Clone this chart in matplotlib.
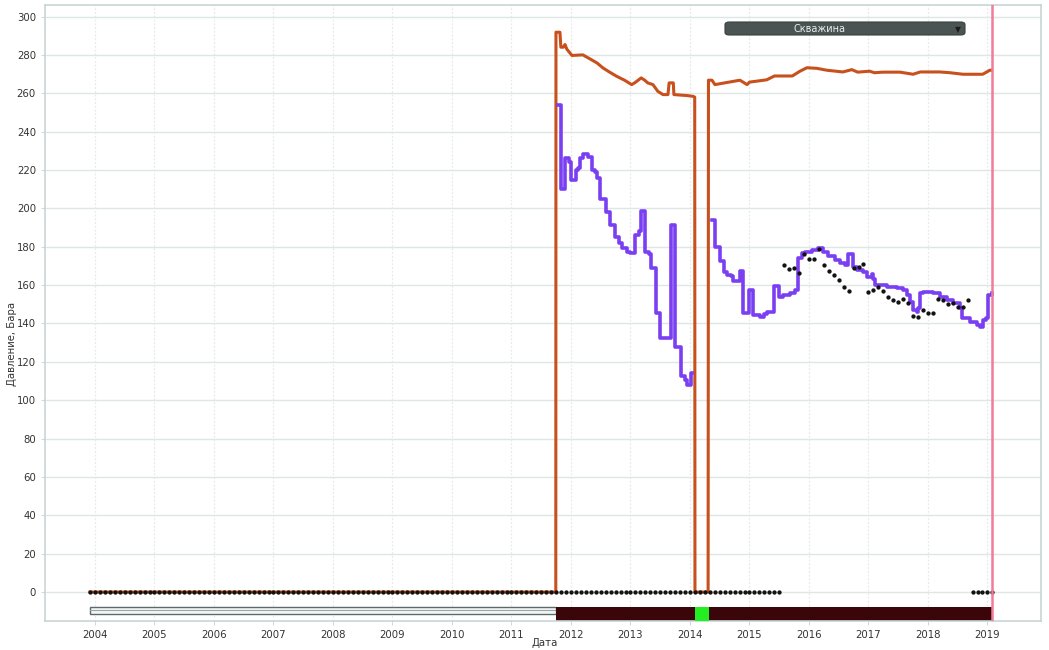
import matplotlib
matplotlib.use("Agg")
import matplotlib.pyplot as plt
import numpy as np
import pandas as pd
from matplotlib.patches import Rectangle, FancyBboxPatch

# ---------------- data ----------------
# Orange series (well pressure, bar) : decimal year / value vertices
orange_t = [2003.916, 2011.745, 2011.748, 2011.815, 2011.83, 2011.87, 2011.90, 2011.93, 2011.983,
            2012.017, 2012.20, 2012.32, 2012.437, 2012.538, 2012.655, 2012.77, 2012.90, 2013.02,
            2013.07, 2013.18, 2013.24, 2013.29, 2013.378, 2013.46, 2013.546, 2013.63, 2013.65,
            2013.72, 2013.73, 2013.95, 2014.05, 2014.08, 2014.084, 2014.305, 2014.311, 2014.37,
            2014.42, 2014.62, 2014.84, 2014.96, 2015.00, 2015.29, 2015.42, 2015.72, 2015.85,
            2015.966, 2016.13, 2016.30, 2016.57, 2016.72, 2016.82, 2017.02, 2017.10, 2017.24,
            2017.53, 2017.75, 2017.87, 2018.20, 2018.37, 2018.59, 2018.92, 2019.04, 2019.07]
orange_v = [0, 0, 291.8, 291.8, 284, 284, 285.4, 283, 281,
            279.7, 280, 277.9, 275.8, 273.2, 270.9, 268.8, 266.8, 264.5,
            265.4, 268, 266.8, 265.4, 264.5, 261, 259.3, 259.3, 265.4,
            265.4, 259.3, 258.8, 258.4, 258, 0, 0, 266.8, 266.8,
            264.5, 265.6, 266.8, 264.5, 265.8, 267, 269, 269, 271.5,
            273.3, 273, 272, 271.1, 272.3, 271, 271.5, 270.7, 271,
            271, 269.9, 271.1, 271.1, 270.7, 269.9, 269.9, 272, 272]

# Purple series, step changes (held until next change)
purple1_t = [2011.776, 2011.83, 2011.90, 2011.966, 2012.0, 2012.08, 2012.118, 2012.15, 2012.20,
             2012.286, 2012.353, 2012.40, 2012.437, 2012.487, 2012.59, 2012.655, 2012.74, 2012.80,
             2012.857, 2012.94, 2013.0, 2013.076, 2013.143, 2013.176, 2013.244, 2013.31, 2013.345,
             2013.43, 2013.496, 2013.68, 2013.748, 2013.849, 2013.916, 2013.95, 2014.017, 2014.034]
purple1_v = [254, 210, 226, 224, 215, 220, 221, 226, 228.5,
             227, 220, 219, 216, 205, 198, 191.5, 185, 182,
             179.5, 177.4, 176.9, 186.3, 188, 198.5, 177, 176, 169,
             145.6, 132.5, 191.5, 127.8, 112.7, 110.6, 108, 114, 114]

purple2_t = [2014.364, 2014.42, 2014.50, 2014.57, 2014.617, 2014.684, 2014.72, 2014.84, 2014.896,
             2014.996, 2015.054, 2015.176, 2015.24, 2015.30, 2015.41, 2015.50, 2015.57, 2015.68,
             2015.765, 2015.82, 2015.877, 2015.93, 2016.05, 2016.15, 2016.235, 2016.32, 2016.437,
             2016.52, 2016.60, 2016.655, 2016.74, 2016.807, 2016.91, 2016.975, 2017.06, 2017.076,
             2017.11, 2017.31, 2017.48, 2017.58, 2017.647, 2017.697, 2017.75, 2017.815, 2017.83,
             2017.865, 2017.916, 2018.08, 2018.20, 2018.32, 2018.42, 2018.54, 2018.57, 2018.705,
             2018.82, 2018.87, 2018.92, 2018.97, 2019.01, 2019.076]
purple2_v = [194, 180, 172.3, 167, 165.4, 164.5, 162, 167.5, 145.4,
             157.6, 144.5, 143.6, 145, 146.2, 159.5, 154, 155, 155.8,
             157.6, 174, 176.6, 177.5, 178.4, 179.5, 177, 175, 173,
             171.7, 170.6, 176, 169.6, 168, 167, 164, 166, 163,
             160, 159, 158.6, 157.6, 155, 151, 147, 146, 148,
             156, 156.5, 156, 154, 152, 150.8, 148, 143, 141,
             139, 138, 142, 143, 155, 156]

# Monthly measurements (black dots)
zero_start, zero_end = "2003-12", "2015-07"
meas_start, meas_end = "2015-08", "2018-09"
meas_v = [170.6, 168.5, 169, 166.5, 176, 173.7, 173.7, 179, 170.6, 167.5,
          165, 162.8, 159, 157, 169, 169.6, 171, 156.5, 157.6, 159,
          157, 154, 152, 151, 152.9, 150.8, 144, 143.5, 147, 145.6,
          145.6, 152.9, 152, 150, 150.8, 148.7, 148.7, 152]
zero2_start, zero2_end = "2018-10", "2019-02"

# timeline bar segments (decimal years)
band_white = (2003.92, 2011.75)
band_dark = (2011.75, 2019.075)
band_green = (2014.084, 2014.32)
current_date = 2019.075

xticks = list(range(2004, 2020))
yticks = list(range(0, 301, 20))


def dec_year(idx):
    return np.array([d.year + (d.month - 1) / 12.0 for d in idx])


# ---------------- figure ----------------
fig = plt.figure(figsize=(10.49, 6.5), dpi=100)
ax = fig.add_axes([45 / 1049, 1 - 621 / 650, (1041 - 45) / 1049, (621 - 5) / 650])
ax.set_xlim(2003.16, 2019.9)
ax.set_ylim(-15.1, 306)

ax.set_yticks(yticks)
ax.set_xticks(xticks)
ax.set_xticklabels([str(x) for x in xticks])
ax.tick_params(axis="both", labelsize=7.3, colors="#333333", length=3, width=0.6)
ax.tick_params(axis="both", color="#c5d2d2")
ax.grid(axis="y", color="#dfe6e6", lw=1.0, ls="-")
ax.grid(axis="x", color="#e6eaea", lw=0.9, ls=(0, (1.5, 1.5)))
ax.set_axisbelow(True)
for s in ax.spines.values():
    s.set_color("#c8d5d5")
    s.set_linewidth(1.2)

# timeline band
ax.add_patch(Rectangle((band_white[0], -11.2), band_white[1] - band_white[0], 3.4,
                       facecolor="#f3f6f6", edgecolor="#5e6a6a", lw=1.0, zorder=2))
ax.plot([band_white[0], band_white[1]], [-9.5, -9.5], color="#9aa5a5", lw=0.8, zorder=2)
ax.add_patch(Rectangle((band_dark[0], -15.1), band_dark[1] - band_dark[0], 7.3,
                       facecolor="#3b0609", edgecolor="none", zorder=2))
ax.add_patch(Rectangle((band_green[0], -15.1), band_green[1] - band_green[0], 7.3,
                       facecolor="#22ee22", edgecolor="none", zorder=3))

# lines
ax.plot(orange_t, orange_v, color="#c8501c", lw=2.2, zorder=4, solid_joinstyle="round")
ax.plot(purple1_t, purple1_v, color="#7b3ff2", lw=2.6, drawstyle="steps-post", zorder=5)
ax.plot(purple2_t, purple2_v, color="#7b3ff2", lw=2.6, drawstyle="steps-post", zorder=5)

# dots
z1 = dec_year(pd.date_range(zero_start, zero_end, freq="MS"))
m1 = dec_year(pd.date_range(meas_start, meas_end, freq="MS"))
z2 = dec_year(pd.date_range(zero2_start, zero2_end, freq="MS"))
ax.plot(z1, np.zeros(len(z1)), ls="none", marker="o", ms=2.1, color="#111111", zorder=6)
ax.plot(m1, meas_v, ls="none", marker="o", ms=2.1, color="#111111", zorder=6)
ax.plot(z2, np.zeros(len(z2)), ls="none", marker="o", ms=2.1, color="#111111", zorder=6)

# current date line
ax.axvline(current_date, color="#f27a9a", lw=1.8, zorder=7)

# labels
ax.set_ylabel("Давление, Бара", fontsize=7.3, color="#333333")
ax.yaxis.set_label_coords(-0.028, 0.45)
fig.text(545 / 1049, 1 - 643 / 650, "Дата", fontsize=7.3, color="#333333", ha="center", va="center")

# dropdown widget
box = FancyBboxPatch((725 / 1049, 1 - 35 / 650), 240 / 1049, 13 / 650,
                     boxstyle="round,pad=0,rounding_size=0.004", transform=fig.transFigure,
                     facecolor="#4a5452", edgecolor="#3a4240", lw=0.8, zorder=10)
fig.patches.append(box)
fig.text(820 / 1049, 1 - 29 / 650, "Скважина", fontsize=7, color="#e8eeee",
         ha="center", va="center", zorder=11)
fig.text(958 / 1049, 1 - 29.5 / 650, "▼", fontsize=5.5, color="#1a1a1a",
         ha="center", va="center", zorder=11)

fig.savefig("out.png", dpi=100)
